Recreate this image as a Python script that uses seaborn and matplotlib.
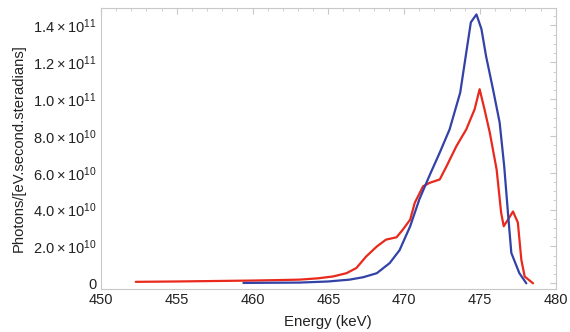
import numpy as np
import pandas as pd
import matplotlib
matplotlib.use("Agg")
import matplotlib.pyplot as plt
import seaborn as sns
from matplotlib.ticker import MultipleLocator, FuncFormatter

# red spectrum (keV, 1e10 photons/[eV.s.sr])
red_energy = [452.3, 455.0, 458.0, 460.0, 462.0, 463.1, 464.3, 465.3, 466.2, 466.85,
              467.5, 468.2, 468.8, 469.5, 469.9, 470.4, 470.7, 471.25, 471.7, 472.35,
              472.8, 473.45, 474.1, 474.65, 474.98, 475.3, 475.65, 476.1, 476.4, 476.57,
              476.85, 477.18, 477.5, 477.73, 477.95, 478.5]
red_flux = [0.08, 0.10, 0.13, 0.15, 0.18, 0.20, 0.27, 0.37, 0.55, 0.83,
            1.46, 2.0, 2.37, 2.5, 2.9, 3.46, 4.37, 5.27, 5.46, 5.64,
            6.36, 7.45, 8.36, 9.45, 10.54, 9.45, 8.18, 6.18, 3.82, 3.1,
            3.46, 3.9, 3.3, 1.28, 0.37, 0.0]

# blue spectrum
blue_energy = [459.4, 461.0, 463.1, 465.0, 466.4, 467.3, 468.2, 469.05, 469.7, 470.4,
               471.0, 471.7, 472.35, 473.0, 473.7, 474.1, 474.4, 474.77, 475.1, 475.4,
               475.86, 476.3, 476.6, 476.85, 477.07, 477.6, 478.06]
blue_flux = [0.02, 0.03, 0.04, 0.10, 0.20, 0.33, 0.55, 1.1, 1.8, 3.1,
             4.55, 5.9, 7.1, 8.36, 10.36, 12.54, 14.17, 14.6, 13.8, 12.35,
             10.54, 8.73, 6.36, 3.8, 1.65, 0.55, 0.0]

df = pd.concat([
    pd.DataFrame({"energy": red_energy, "flux": np.array(red_flux) * 1e10, "series": "red"}),
    pd.DataFrame({"energy": blue_energy, "flux": np.array(blue_flux) * 1e10, "series": "blue"}),
], ignore_index=True)

sns.set_style("white")
plt.rcParams['font.family'] = ['Liberation Sans', 'DejaVu Sans']
plt.rcParams['mathtext.fontset'] = 'custom'
plt.rcParams['mathtext.rm'] = 'Liberation Sans'
plt.rcParams['mathtext.default'] = 'regular'

fig = plt.figure(figsize=(5.7, 3.32), dpi=100)
ax = fig.add_axes([0.177, 0.13, 0.798, 0.846])

sns.lineplot(data=df, x="energy", y="flux", hue="series",
             palette={"red": "#e8291c", "blue": "#3242a6"},
             estimator=None, sort=False, linewidth=1.6, legend=False, ax=ax)

ax.set_xlim(450, 480)
ax.set_ylim(-3e9, 1.495e11)
ax.xaxis.set_major_locator(MultipleLocator(5))
ax.xaxis.set_minor_locator(MultipleLocator(1))
ax.yaxis.set_major_locator(MultipleLocator(2e10))
ax.yaxis.set_minor_locator(MultipleLocator(5e9))


def sci(v, pos):
    if abs(v) < 1:
        return "0"
    exp = int(np.floor(np.log10(abs(v))))
    return r"$%.1f\times10^{%d}$" % (v / 10**exp, exp)


ax.yaxis.set_major_formatter(FuncFormatter(sci))

for s in ax.spines.values():
    s.set_color("#c8c8c8")
    s.set_linewidth(0.8)
ax.tick_params(which="both", direction="in", top=True, right=True,
               color="#c8c8c8", labelsize=10.5, labelcolor="#222222", pad=3)
ax.tick_params(which="major", length=4)
ax.tick_params(which="minor", length=2)

ax.set_xlabel("Energy (keV)", fontsize=10.8, color="#222222", labelpad=6)
ax.set_ylabel("Photons/[eV.second.steradians]", fontsize=10.6, color="#222222", labelpad=5)

fig.savefig("out.png", dpi=100)
